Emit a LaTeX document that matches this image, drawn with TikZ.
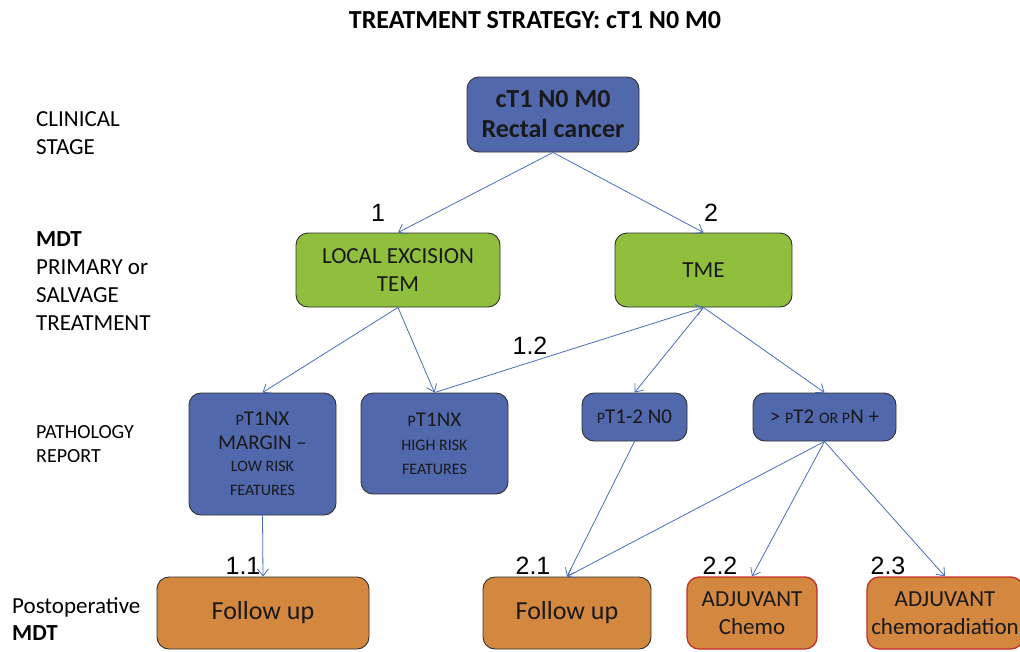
\documentclass[tikz,border=0pt]{standalone}
\usepackage{fontspec}
\setmainfont{Carlito}
\newfontfamily\numfont{Liberation Sans}
\usetikzlibrary{arrows.meta}
\definecolor{boxblue}{HTML}{5169AC}
\definecolor{boxgreen}{HTML}{8FBF3C}
\definecolor{boxorange}{HTML}{D3873F}
\definecolor{boxred}{HTML}{C4302B}
\definecolor{linkblue}{HTML}{4A6CBA}
\definecolor{edgegray}{HTML}{303030}
\newcommand{\fs}[2]{\fontsize{#1}{#2}\selectfont}
\tikzset{
  x=1pt,y=-1pt,
  base/.style={rounded corners=12pt, draw=edgegray, line width=0.9pt, align=center, inner sep=0pt, text=black!90},
  bluebox/.style={base, fill=boxblue},
  greenbox/.style={base, fill=boxgreen},
  orangebox/.style={base, fill=boxorange},
  redbox/.style={base, fill=boxorange, draw=boxred, line width=1.3pt},
  link/.style={draw=linkblue, line width=0.8pt, -{Straight Barb[length=7pt,width=11pt]}},
  sidelabel/.style={anchor=north west, align=left, inner sep=0pt, font=\fs{23}{28}},
  numlabel/.style={inner sep=0pt, font=\numfont\fs{25}{25}},
}
\begin{document}
\begin{tikzpicture}
\useasboundingbox (0,0) rectangle (1020,651);
\node[inner sep=0pt, font=\bfseries\fs{26}{30}] (title) at (535,20) {TREATMENT STRATEGY: cT1 N0 M0};

\node[sidelabel] (ls1) at (36,111) {CLINICAL\\STAGE};
\node[sidelabel] (ls2) at (36,231) {\textbf{MDT}\\PRIMARY or\\SALVAGE\\TREATMENT};
\node[sidelabel, font=\fs{20}{24}] (ls3) at (36,425) {PATHOLOGY\\REPORT};
\node[sidelabel, font=\fs{23}{27}] (ls4) at (12,597) {Postoperative\\\textbf{MDT}};

\node[bluebox, minimum width=172pt, minimum height=75pt, font=\bfseries\fs{26}{30}] (top) at (553,114.5) {cT1 N0 M0\\Rectal cancer};

\node[greenbox, minimum width=204pt, minimum height=74pt, font=\fs{23}{28}] (le) at (398,270) {LOCAL EXCISION\\TEM};
\node[greenbox, minimum width=177pt, minimum height=74pt, font=\fs{23}{28}] (tme) at (703.5,270) {TME};

\node[bluebox, minimum width=147pt, minimum height=122pt, font=\fs{21}{24}] (margin) at (262.5,454) {{\fs{16}{16}P}T1NX\\MARGIN --\\[-2pt]{\fs{16}{16}LOW RISK}\\{\fs{16}{16}FEATURES}};
\node[bluebox, minimum width=147pt, minimum height=101pt, font=\fs{21}{24}] (high) at (434.5,443.5) {{\fs{16}{16}P}T1NX\\{\fs{16}{16}HIGH RISK}\\{\fs{16}{16}FEATURES}};
\node[bluebox, minimum width=105pt, minimum height=48pt, font=\fs{21}{24}] (pn0) at (634.5,417) {{\fs{16}{16}P}T1-2 N0};
\node[bluebox, minimum width=143pt, minimum height=48pt, font=\fs{21}{24}] (pt2) at (824.5,417) {> {\fs{16}{16}P}T2 {\fs{16}{16}OR P}N +};

\node[orangebox, minimum width=212pt, minimum height=72pt, font=\fs{26}{30}] (fu1) at (263,613) {Follow up};
\node[orangebox, minimum width=168pt, minimum height=72pt, font=\fs{26}{30}] (fu2) at (567,613) {Follow up};
\node[redbox, minimum width=130pt, minimum height=72pt, font=\fs{23}{28}] (chemo) at (752,613) {ADJUVANT\\Chemo};
\node[redbox, minimum width=156pt, minimum height=72pt, font=\fs{23}{28}] (crt) at (945,613) {ADJUVANT\\chemoradiation};

\draw[link] (top.south) -- (le.north);
\draw[link] (top.south) -- (tme.north);
\draw[link] (le.south) -- (margin.north);
\draw[link] (le.south) -- (high.north);
\draw[link] (high.north) -- (tme.south);
\draw[link] (tme.south) -- (pn0.north);
\draw[link] (tme.south) -- (pt2.north);
\draw[link] (margin.south) -- (fu1.north);
\draw[link] (pn0.south) -- (fu2.north);
\draw[link] (pt2.south) -- (fu2.north);
\draw[link] (pt2.south) -- (chemo.north);
\draw[link] (pt2.south) -- (crt.north);

\node[numlabel] (n1) at (378,213) {1};
\node[numlabel] (n2) at (711,213) {2};
\node[numlabel] (n12) at (530,346) {1.2};
\node[numlabel] (n11) at (243,566) {1.1};
\node[numlabel] (n21) at (533,566) {2.1};
\node[numlabel] (n22) at (720,566) {2.2};
\node[numlabel] (n23) at (888,566) {2.3};
\end{tikzpicture}
\end{document}
